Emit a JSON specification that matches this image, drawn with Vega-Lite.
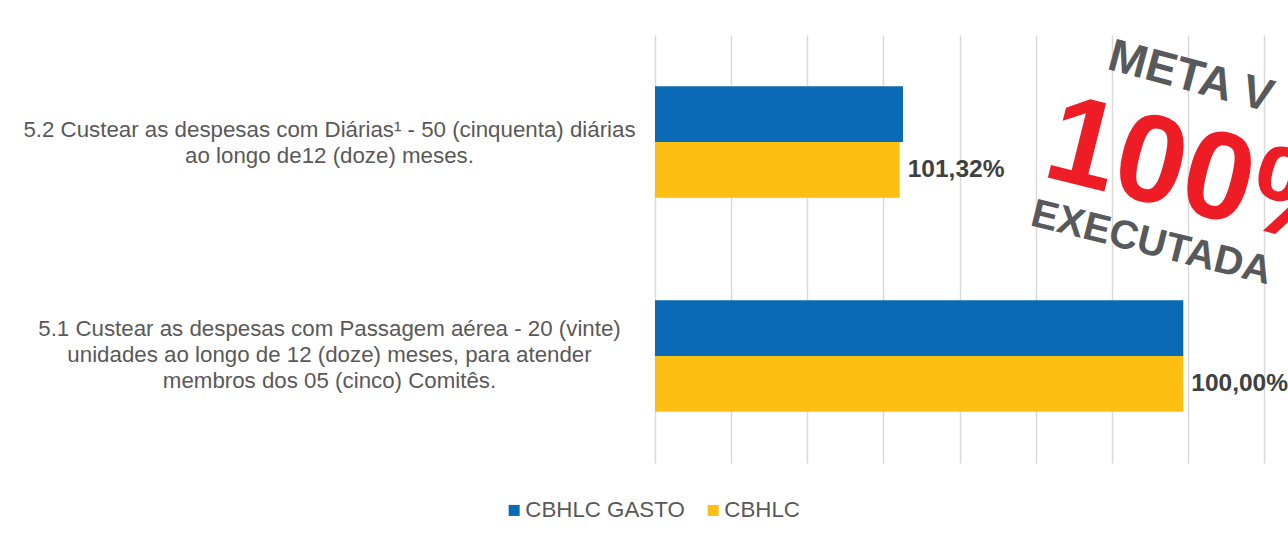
{
  "$schema": "https://vega.github.io/schema/vega-lite/v6.json",
  "width": 609,
  "height": 428,
  "autosize": {"type": "none"},
  "padding": {"left": 655, "top": 35, "right": 24, "bottom": 75},
  "background": "white",
  "config": {
    "view": {"stroke": null},
    "font": "Liberation Sans"
  },
  "data": {
    "values": [
      {"meta": "5.2 Custear as despesas com Diárias¹ - 50 (cinquenta) diárias|ao longo de12 (doze) meses.", "serie": "CBHLC GASTO", "valor": 3.2575},
      {"meta": "5.2 Custear as despesas com Diárias¹ - 50 (cinquenta) diárias|ao longo de12 (doze) meses.", "serie": "CBHLC", "valor": 3.215, "rotulo": "101,32%"},
      {"meta": "5.1 Custear as despesas com Passagem aérea - 20 (vinte)|unidades ao longo de 12 (doze) meses, para atender|membros dos 05 (cinco) Comitês.", "serie": "CBHLC GASTO", "valor": 6.94},
      {"meta": "5.1 Custear as despesas com Passagem aérea - 20 (vinte)|unidades ao longo de 12 (doze) meses, para atender|membros dos 05 (cinco) Comitês.", "serie": "CBHLC", "valor": 6.94, "rotulo": "100,00%"}
    ]
  },
  "resolve": {"scale": {"y": "independent"}},
  "layer": [
    {
      "mark": {"type": "bar"},
      "encoding": {
        "y": {
          "field": "meta", "type": "nominal",
          "sort": ["5.2 Custear as despesas com Diárias¹ - 50 (cinquenta) diárias|ao longo de12 (doze) meses.", "5.1 Custear as despesas com Passagem aérea - 20 (vinte)|unidades ao longo de 12 (doze) meses, para atender|membros dos 05 (cinco) Comitês."],
          "scale": {"paddingInner": 0.48, "paddingOuter": 0.24},
          "axis": {
            "title": null, "domain": false, "ticks": false, "grid": false,
            "labelExpr": "split(datum.label, '|')",
            "labelAlign": "center", "labelBaseline": "middle",
            "labelOffset": {"condition": {"test": "indexof(datum.value, '5.1') === 0", "value": -27}, "value": -12},
            "labelPadding": 326, "labelLimit": 800,
            "labelFontSize": 22.3, "labelLineHeight": 26,
            "labelColor": "#595959", "labelFont": "Liberation Sans"
          }
        },
        "yOffset": {"field": "serie", "type": "nominal", "sort": ["CBHLC GASTO", "CBHLC"], "scale": {"paddingInner": 0}},
        "x": {
          "field": "valor", "type": "quantitative",
          "scale": {"domain": [0, 8], "nice": false},
          "axis": {
            "title": null, "labels": false, "ticks": false, "domain": false,
            "values": [0, 1, 2, 3, 4, 5, 6, 7, 8],
            "grid": true, "gridColor": "#d9d9d9", "gridWidth": 1.5
          }
        },
        "color": {
          "field": "serie", "type": "nominal",
          "sort": ["CBHLC GASTO", "CBHLC"],
          "scale": {"domain": ["CBHLC GASTO", "CBHLC"], "range": ["#0A6AB5", "#FCBF12"]},
          "legend": {
            "title": null, "orient": "none", "direction": "horizontal",
            "legendX": -152, "legendY": 464,
            "symbolType": "square", "symbolSize": 121, "symbolStrokeWidth": 0,
            "labelFontSize": 22.3, "labelColor": "#595959", "labelFont": "Liberation Sans",
            "labelOffset": 0, "columnPadding": 17, "padding": 0, "offset": 0
          }
        }
      }
    },
    {
      "transform": [{"filter": "isValid(datum.rotulo)"}],
      "mark": {"type": "text", "align": "left", "baseline": "middle", "dx": 8, "fontSize": 24.5, "fontWeight": "bold", "color": "#404040", "font": "Liberation Sans"},
      "encoding": {
        "y": {
          "field": "meta", "type": "nominal",
          "sort": ["5.2 Custear as despesas com Diárias¹ - 50 (cinquenta) diárias|ao longo de12 (doze) meses.", "5.1 Custear as despesas com Passagem aérea - 20 (vinte)|unidades ao longo de 12 (doze) meses, para atender|membros dos 05 (cinco) Comitês."],
          "scale": {"paddingInner": 0.48, "paddingOuter": 0.24},
          "axis": null
        },
        "yOffset": {"field": "serie", "type": "nominal", "sort": ["CBHLC GASTO", "CBHLC"], "scale": {"domain": ["CBHLC GASTO", "CBHLC"], "paddingInner": 0}},
        "x": {"field": "valor", "type": "quantitative"},
        "text": {"field": "rotulo"}
      }
    },
    {
      "data": {"values": [{"texto": "META V"}]},
      "mark": {"type": "text", "align": "center", "baseline": "middle", "angle": 15, "fontSize": 46, "fontWeight": "bold", "color": "#58595B", "font": "Liberation Sans"},
      "encoding": {
        "x": {"datum": 7.04, "type": "quantitative"},
        "y": {"datum": 90.2, "type": "quantitative", "scale": {"domain": [0, 100]}, "axis": null},
        "text": {"field": "texto"}
      }
    },
    {
      "data": {"values": [{"texto": "100%"}]},
      "mark": {"type": "text", "align": "left", "baseline": "alphabetic", "angle": 14, "fontSize": 125, "fontWeight": "bold", "color": "#EE1C25", "font": "Liberation Sans"},
      "encoding": {
        "x": {"datum": 5.06, "type": "quantitative"},
        "y": {"datum": 67.2, "type": "quantitative", "scale": {"domain": [0, 100]}, "axis": null},
        "text": {"field": "texto"}
      }
    },
    {
      "data": {"values": [{"texto": "EXECUTADA"}]},
      "mark": {"type": "text", "align": "center", "baseline": "middle", "angle": 14, "fontSize": 40, "fontWeight": "bold", "color": "#58595B", "font": "Liberation Sans"},
      "encoding": {
        "x": {"datum": 6.52, "type": "quantitative"},
        "y": {"datum": 51.4, "type": "quantitative", "scale": {"domain": [0, 100]}, "axis": null},
        "text": {"field": "texto"}
      }
    }
  ]
}
